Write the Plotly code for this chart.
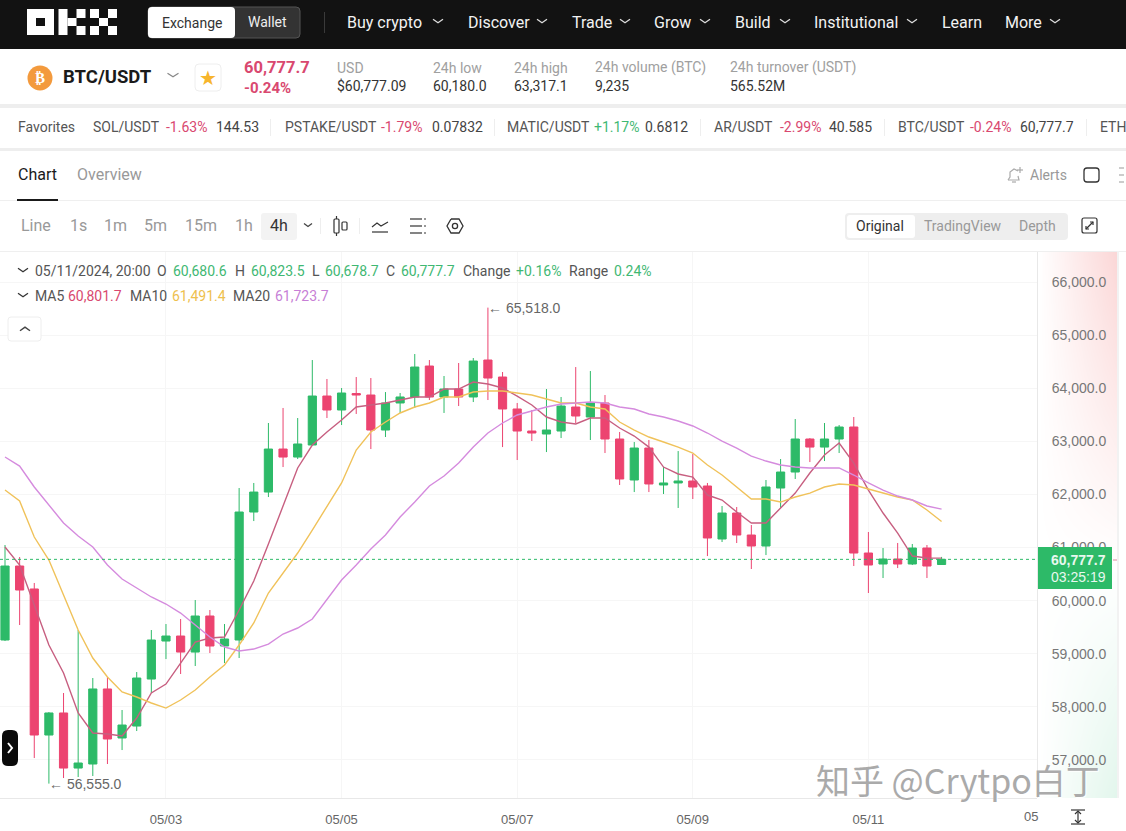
import numpy as np
import pandas as pd
import plotly.graph_objects as go

W, H = 1126, 831

opens = [59259, 60652, 60220, 57470, 57885, 56848, 56924, 58337, 57414, 57639, 58524, 59240, 59334,
         59032, 59711, 59146, 59259, 61669, 62045, 62855, 62704, 62931, 63853, 63590, 63900, 63872,
         63213, 63722, 63835, 64418, 63835, 63985, 63835, 64531, 64211, 63609, 63194, 63138, 63194,
         63646, 63458, 63722, 63044, 62272, 62874, 62178, 62216, 62253, 62159, 61161, 61650, 61236,
         61029, 62121, 62422, 63044, 62892, 63044, 63270, 60897, 60690, 60784, 60690, 60991, 60680.6]
highs = [61048, 60821, 60333, 57903, 58261, 59447, 58543, 58562, 57941, 58656, 59447, 59560, 59654,
         60012, 59824, 59560, 62121, 62216, 63345, 63628, 63439, 64531, 64174, 64004, 64211, 64192,
         63928, 63910, 64644, 64531, 64230, 64475, 64569, 65518, 64305, 63722, 63590, 63985, 63835,
         64399, 64324, 63872, 63176, 62987, 63025, 62517, 62817, 62761, 62216, 61782, 61763, 61424,
         62272, 62667, 63420, 63062, 63345, 63307, 63458, 61293, 60991, 61086, 61067, 61048, 60823.5]
lows = [59240, 59541, 57036, 56555, 56660, 56679, 56698, 56924, 57187, 57545, 58261, 58900, 58619,
        58769, 59014, 58825, 58920, 61499, 61951, 62516, 62667, 62931, 63439, 63307, 63515, 62855,
        63081, 63534, 63628, 63778, 63534, 63665, 63740, 63778, 62892, 62648, 63006, 62798, 63062,
        63345, 63025, 62780, 62178, 62045, 62045, 62008, 61745, 61914, 60840, 61104, 61085, 60596,
        60859, 61745, 62291, 62610, 62629, 62780, 60652, 60144, 60426, 60614, 60671, 60426, 60678.7]
closes = [60652, 60200, 57470, 57885, 56848, 56943, 58337, 57395, 57658, 58543, 59259, 59334, 59032,
          59711, 59146, 59278, 61669, 62045, 62855, 62704, 62950, 63853, 63590, 63910, 63872, 63213,
          63722, 63835, 64399, 63835, 63985, 63835, 64512, 64192, 63609, 63194, 63157, 63213, 63665,
          63477, 63722, 63044, 62291, 62874, 62197, 62216, 62253, 62140, 61180, 61650, 61236, 61029,
          62140, 62422, 63044, 62892, 63044, 63270, 60897, 60671, 60784, 60690, 60991, 60652, 60777.7]

ma5 = [61010, 60671, 59918, 59165, 58637, 57885, 57508, 57489, 57451, 57790, 58261, 58430, 58825,
       59221, 59296, 59315, 59824, 60370, 61067, 61782, 62498, 62931, 63176, 63401, 63646, 63684,
       63722, 63778, 63835, 63835, 63985, 63985, 64117, 64079, 64004, 63853, 63684, 63458, 63364,
       63326, 63439, 63439, 63251, 63100, 62892, 62516, 62385, 62328, 61989, 61895, 61669, 61462,
       61462, 61745, 62026, 62404, 62742, 62968, 62591, 62083, 61650, 61273, 60840, 60802, 60801.7]
ma10 = [62083, 61876, 61198, 60765, 60106, 59447, 58920, 58562, 58280, 58186, 58073, 57978, 58129,
        58317, 58562, 58788, 59165, 59579, 60144, 60520, 60897, 61330, 61782, 62216, 62836, 63176,
        63364, 63534, 63646, 63722, 63835, 63835, 63928, 63947, 63947, 63910, 63872, 63797, 63722,
        63722, 63646, 63609, 63364, 63213, 63081, 62987, 62892, 62780, 62554, 62366, 62140, 61914,
        61914, 61857, 61951, 62026, 62140, 62197, 62178, 62103, 62026, 61951, 61895, 61707, 61491.4]
ma20 = [62705, 62535, 62140, 61801, 61462, 61217, 61010, 60671, 60408, 60238, 60069, 59937, 59767,
        59541, 59315, 59127, 59052, 59089, 59183, 59372, 59485, 59654, 60012, 60389, 60671, 60972,
        61236, 61575, 61857, 62159, 62347, 62591, 62892, 63157, 63345, 63496, 63571, 63646, 63703,
        63722, 63740, 63722, 63646, 63609, 63515, 63458, 63383, 63289, 63157, 63006, 62874, 62723,
        62629, 62554, 62516, 62498, 62498, 62498, 62366, 62216, 62083, 61970, 61895, 61782, 61723.7]

price_ticks = [57000, 58000, 59000, 60000, 61000, 62000, 63000, 64000, 65000, 66000]
last_price = 60777.7

times = pd.date_range("2024-05-01 04:00", periods=len(opens), freq="4h")

GREEN = "#2dba68"
RED = "#ec4470"
TEXT_RED = "#d9486f"
TEXT_GREEN = "#3fb873"
DARK = "#1a1a1a"
GREY = "#8f8f8f"
MID = "#555555"
FONT = "Roboto"
AXIS_FONT = "Liberation Sans"

shapes = []
annotations = []


def fx(x):
    return x / W


def fy(y):
    return 1 - y / H


def rect(x0, y0, x1, y1, fill="rgba(0,0,0,0)", line=None, r=0, lw=1):
    d = (
        f"M{fx(x0 + r)},{fy(y0)} L{fx(x1 - r)},{fy(y0)} Q{fx(x1)},{fy(y0)} {fx(x1)},{fy(y0 + r)} "
        f"L{fx(x1)},{fy(y1 - r)} Q{fx(x1)},{fy(y1)} {fx(x1 - r)},{fy(y1)} "
        f"L{fx(x0 + r)},{fy(y1)} Q{fx(x0)},{fy(y1)} {fx(x0)},{fy(y1 - r)} "
        f"L{fx(x0)},{fy(y0 + r)} Q{fx(x0)},{fy(y0)} {fx(x0 + r)},{fy(y0)} Z"
    )
    shapes.append(dict(type="path", path=d, xref="paper", yref="paper", layer="above",
                       fillcolor=fill, line=dict(color=line or "rgba(0,0,0,0)", width=lw if line else 0)))


def poly(points, color, lw=1.2):
    d = "M" + " L".join(f"{fx(x)},{fy(y)}" for x, y in points)
    shapes.append(dict(type="path", path=d, xref="paper", yref="paper", layer="above",
                       line=dict(color=color, width=lw)))


def chevron(x, y, color, w=5, h=3.5, up=False, lw=1.3):
    s = -1 if up else 1
    poly([(x - w, y - s * h / 2), (x, y + s * h / 2), (x + w, y - s * h / 2)], color, lw)


def circle(x, y, r, fill="rgba(0,0,0,0)", line=None, lw=1.3):
    shapes.append(dict(type="circle", xref="paper", yref="paper", layer="above",
                       x0=fx(x - r), x1=fx(x + r), y0=fy(y + r), y1=fy(y - r), fillcolor=fill,
                       line=dict(color=line or "rgba(0,0,0,0)", width=lw if line else 0)))


def label(x, y, text, color=DARK, size=14, anchor="left", bold=False, family=FONT):
    # annotation boxes add about a pixel on the left
    if anchor == "left":
        x -= 1
    annotations.append(dict(x=fx(x), y=fy(y), xref="paper", yref="paper", text=f"<b>{text}</b>" if bold else text,
                            showarrow=False, xanchor=anchor, yanchor="middle", borderpad=0,
                            font=dict(family=family, size=size, color=color)))


# ---- page bands
rect(0, 0, W, 49, "#121212")
rect(0, 49, W, 104, "#ffffff")
rect(0, 104, W, 108, "#eeeeee")
rect(0, 148, W, 151, "#eeeeee")
rect(0, 200, W, 201, "#efefef")
rect(0, 251, W, 252, "#efefef")
rect(17, 199, 58, 201, DARK)
rect(1037, 798, W, H, "#ffffff")
rect(1117, 251, 1119, 798, "#f2f2f2")

# ---- logo
for cx0, cy0, cx1, cy1 in [(27, 9, 54, 35), (58.5, 9, 67.5, 35), (67.5, 18, 76.5, 26), (76.5, 9, 85.5, 18),
                           (76.5, 26, 85.5, 35), (90, 9, 99, 18), (108, 9, 117, 18), (99, 18, 108, 26),
                           (90, 26, 99, 35), (108, 26, 117, 35)]:
    rect(cx0, cy0, cx1, cy1, "#ffffff")
rect(36, 18, 45, 26, "#121212")

# ---- top nav
rect(148, 7, 300, 38, "#333333", "#555555", r=4)
rect(148, 7, 235, 38, "#ffffff", r=4)
label(162, 23, "Exchange", "#333333", 14)
label(248, 22, "Wallet", "#eeeeee", 14)
rect(324, 12, 325, 33, "#3a3a3a")
nav_items = ["Buy crypto", "Discover", "Trade", "Grow", "Build", "Institutional", "Learn", "More"]
nav_x = [347, 468, 572, 654, 735, 814, 942, 1005]
nav_chev = [438, 542, 625, 705, 785, 912, None, 1055]
for t, x, c in zip(nav_items, nav_x, nav_chev):
    label(x, 22, t, "#f2f2f2", 16)
    if c:
        chevron(c, 21, "#dddddd", 5, 3.5)

# ---- ticker header
circle(40, 78, 12.5, "#f39a3d")
label(40, 78, "₿", "#ffffff", 15, "center", True, "DejaVu Sans")
label(63, 77, "BTC/USDT", DARK, 18.5, bold=True)
chevron(173, 75, "#888888", 5.5, 3.5)
rect(195, 64, 221, 91, "#ffffff", "#eeeeee", r=4)
label(208, 78, "★", "#f7b52c", 20, "center", family="DejaVu Sans")
label(244, 68, "60,777.7", TEXT_RED, 16.5, bold=True)
label(244, 88, "-0.24%", TEXT_RED, 15, bold=True)
stat_x = [337, 433, 514, 595, 730]
stat_names = ["USD", "24h low", "24h high", "24h volume (BTC)", "24h turnover (USDT)"]
stat_values = ["$60,777.09", "60,180.0", "63,317.1", "9,235", "565.52M"]
for x, n, v in zip(stat_x, stat_names, stat_values):
    label(x, 68, n, "#a0a0a0", 14)
    label(x, 86, v, "#333333", 14)

# ---- favorites row
label(18, 127, "Favorites", "#555555", 14)
fav = [(93, "SOL/USDT", 166, "-1.63%", TEXT_RED, 216, "144.53"),
       (285, "PSTAKE/USDT", 381, "-1.79%", TEXT_RED, 432, "0.07832"),
       (507, "MATIC/USDT", 594, "+1.17%", TEXT_GREEN, 645, "0.6812"),
       (714, "AR/USDT", 780, "-2.99%", TEXT_RED, 829, "40.585"),
       (898, "BTC/USDT", 970, "-0.24%", TEXT_RED, 1020, "60,777.7")]
for x1, n, x2, p, c, x3, v in fav:
    label(x1, 127, n, "#555555", 14)
    label(x2, 127, p, c, 14)
    label(x3, 127, v, "#444444", 14)
for x in [270, 494, 700, 884, 1086]:
    rect(x, 119, x + 1, 136, "#eeeeee")
label(1100, 127, "ETH", "#555555", 14)

# ---- chart tabs and toolbar
label(18, 175, "Chart", DARK, 16)
label(77, 175, "Overview", "#999999", 16)
label(1030, 175, "Alerts", "#999999", 14)
poly([(1008, 180), (1010, 177), (1010, 172), (1014, 169), (1018, 171)], "#aaaaaa", 1.2)
poly([(1018, 176), (1019, 180), (1008, 180)], "#aaaaaa", 1.2)
poly([(1012, 182), (1016, 182)], "#aaaaaa", 1.2)
poly([(1017, 170), (1023, 170)], "#aaaaaa", 1.2)
poly([(1020, 167), (1020, 173)], "#aaaaaa", 1.2)
rect(1084, 168, 1099, 182, "#ffffff", "#333333", r=3, lw=1.3)
for y in [168, 175, 182]:
    poly([(1119, y), (1124, y)], "#bbbbbb", 1.5)
tools = ["Line", "1s", "1m", "5m", "15m", "1h"]
tools_x = [21, 70, 104, 144, 185, 235]
for t, x in zip(tools, tools_x):
    label(x, 226, t, "#999999", 16)
rect(261, 213, 297, 240, "#f3f3f3", r=3)
label(270, 226, "4h", "#333333", 16)
chevron(308, 225, "#444444", 4, 3)
rect(320, 218, 321, 234, "#eeeeee")
rect(334, 219, 339, 233, "#ffffff", "#333333", r=1, lw=1.2)
poly([(336.5, 216), (336.5, 219)], "#333333")
poly([(336.5, 233), (336.5, 236)], "#333333")
rect(342, 222, 347, 230, "#ffffff", "#333333", r=1, lw=1.2)
rect(359, 218, 360, 234, "#eeeeee")
poly([(372, 232), (388, 232)], "#333333")
poly([(372, 227), (377, 223), (381, 226), (388, 222)], "#333333")
for y in [219, 226, 233]:
    poly([(410, y), (422, y)], "#333333")
    poly([(424, y), (426, y)], "#333333")
poly([(451, 219), (459, 219), (463, 226), (459, 233), (451, 233), (447, 226), (451, 219)], "#333333", 1.3)
circle(455, 226, 2.6, line="#333333")
rect(845, 213, 1068, 240, "#eeeeee", r=4)
rect(847, 215, 915, 238, "#ffffff", r=3)
label(856, 226, "Original", "#333333", 14)
label(924, 226, "TradingView", "#999999", 14)
label(1019, 226, "Depth", "#999999", 14)
rect(1082, 218, 1097, 233, "#ffffff", "#333333", r=2, lw=1.2)
poly([(1086, 229), (1093, 222)], "#333333")
poly([(1090, 222), (1093, 222), (1093, 225)], "#333333")
poly([(1086, 226), (1086, 229), (1089, 229)], "#333333")

# ---- legend rows over the chart
chevron(23, 270, "#333333", 5, 3.5)
chevron(23, 295, "#333333", 5, 3.5)
legend_top = [(35, "05/11/2024, 20:00", MID), (157, "O", MID), (173, "60,680.6", TEXT_GREEN), (235, "H", MID),
              (251, "60,823.5", TEXT_GREEN), (312, "L", MID), (325, "60,678.7", TEXT_GREEN), (386, "C", MID),
              (401, "60,777.7", TEXT_GREEN), (463, "Change", MID), (516, "+0.16%", TEXT_GREEN), (569, "Range", MID),
              (614, "0.24%", TEXT_GREEN)]
for x, t, c in legend_top:
    label(x, 271, t, c, 14)
legend_ma = [(35, "MA5", MID), (68, "60,801.7", TEXT_RED), (130, "MA10", MID), (172, "61,491.4", "#eec04e"),
             (233, "MA20", MID), (275, "61,723.7", "#c77fd6")]
for x, t, c in legend_ma:
    label(x, 296, t, c, 14)
rect(8, 317, 41, 341, "#ffffff", "#eeeeee", r=3)
chevron(25, 329, "#444444", 5, 3.5, up=True, lw=1.5)
rect(2, 730, 18, 766, "#0a0a0a", r=6)
poly([(8, 743), (12, 748), (8, 753)], "#ffffff", 2)

# ---- last price tag on the price axis
rect(1038, 547, 1112, 589, GREEN)
label(1078, 560, "60,777.7", "#e8f8ef", 14, "center", True, AXIS_FONT)
label(1078, 577, "03:25:19", "#e8f8ef", 14, "center", family=AXIS_FONT)
poly([(1113, 560), (1117, 560)], "#d98a9e", 1)

# ---- reset icon under the price axis
poly([(1071, 810), (1085, 810)], "#333333")
poly([(1071, 824), (1085, 824)], "#333333")
poly([(1078, 812), (1078, 822)], "#333333")
poly([(1075, 814), (1078, 811), (1081, 814)], "#333333")
poly([(1075, 820), (1078, 823), (1081, 820)], "#333333")

# tick 05/13 falls past the axis range, only its start shows in the original
label(1039, 816, "05", "#666666", 13, "right", family=AXIS_FONT)

label(958, 779, "知乎 @Crytpo白丁", "#aaaaaa", 34, "center", family="Noto Sans CJK SC")
annotations[-1]["font"]["shadow"] = "1px 1px 1px #ffffff"

# ---- high / low marks sit on the data itself
annotations.append(dict(x=times[33], y=65518, xref="x2", yref="y2", text="← 65,518.0", showarrow=False,
                        xanchor="left", yanchor="middle", xshift=-2,
                        font=dict(family=AXIS_FONT, size=14, color="#666666")))
annotations.append(dict(x=times[3], y=56555, xref="x2", yref="y2", text="← 56,555.0", showarrow=False,
                        xanchor="left", yanchor="middle", xshift=-2,
                        font=dict(family=AXIS_FONT, size=14, color="#666666")))

# last price dotted line
shapes.append(dict(type="line", xref="x2 domain", yref="y2", x0=0, x1=1, y0=last_price, y1=last_price,
                   layer="above", line=dict(color=GREEN, width=1, dash="dot")))

fig = go.Figure()

# price panel background, drawn first so the price labels stay on top of it
gx = np.linspace(0, 1, 30)
gy = np.linspace(0, 1, 60)
vert = np.interp(gy, [0, (798 - 568) / 547, 1], [-1, 0, 1])
fig.add_trace(go.Heatmap(z=np.outer(vert, gx), x=gx, y=gy, zmin=-1, zmax=1, showscale=False, zsmooth="best",
                         hoverinfo="skip", xaxis="x", yaxis="y",
                         colorscale=[[0, "#e2f6ec"], [0.5, "#ffffff"], [1, "#fbd6d6"]]))

fig.add_trace(go.Candlestick(x=times, open=opens, high=highs, low=lows, close=closes, xaxis="x2", yaxis="y2",
                             whiskerwidth=0, showlegend=False,
                             increasing=dict(line=dict(color=GREEN, width=1), fillcolor=GREEN),
                             decreasing=dict(line=dict(color=RED, width=1), fillcolor=RED)))
for vals, color in [(ma5, "#c75f80"), (ma10, "#f0c25a"), (ma20, "#d58bde")]:
    fig.add_trace(go.Scatter(x=times, y=vals, mode="lines", xaxis="x2", yaxis="y2", showlegend=False,
                             line=dict(color=color, width=1.4)))

fig.update_layout(
    width=W, height=H, margin=dict(l=0, r=0, t=0, b=0), paper_bgcolor="#ffffff", plot_bgcolor="rgba(0,0,0,0)",
    boxgap=0.2, shapes=shapes, annotations=annotations, showlegend=False,
    xaxis=dict(domain=[1038 / W, 1117 / W], range=[0, 1], visible=False, fixedrange=True),
    yaxis=dict(domain=[1 - 798 / H, 1 - 251 / H], range=[0, 1], visible=False, fixedrange=True),
    xaxis2=dict(domain=[0, 1037 / W], type="date", range=["2024-05-01 02:38", "2024-05-12 22:05"],
                rangeslider=dict(visible=False), tick0="2024-05-01", dtick=2 * 86400000, tickformat="%m/%d",
                showgrid=True, gridcolor="#f6f6f6", showline=True, linecolor="#e8e8e8", anchor="y2",
                ticks="outside", ticklen=9, tickcolor="rgba(0,0,0,0)",
                tickfont=dict(family=AXIS_FONT, size=13, color="#666666")),
    yaxis2=dict(domain=[1 - 798 / H, 1 - 251 / H], range=[56284, 66584], side="right", anchor="x2",
                tickvals=price_ticks, tickformat=",.1f", showgrid=True, gridcolor="#f6f6f6", showline=True,
                linecolor="#e8e8e8", ticks="outside", ticklen=11, tickcolor="rgba(0,0,0,0)", zeroline=False,
                tickfont=dict(family=AXIS_FONT, size=14, color="#777777")),
)

fig.write_html("out.html", config=dict(displayModeBar=False),
               post_script="document.body.style.margin='0';document.body.style.overflow='hidden';")
